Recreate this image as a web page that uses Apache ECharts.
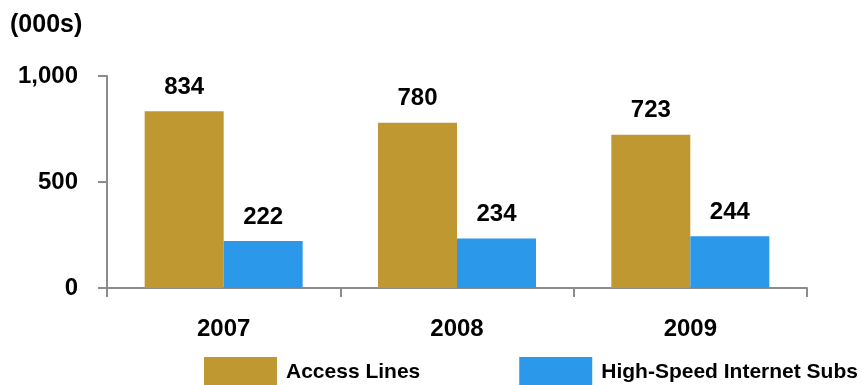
<!DOCTYPE html>
<html>
<head>
<meta charset="utf-8">
<script src="https://cdn.jsdelivr.net/npm/echarts@6/dist/echarts.min.js"></script>
<style>
  html, body { margin: 0; padding: 0; background: #fff; }
  #chart { width: 862px; height: 385px; }
</style>
</head>
<body>
<div id="chart"></div>
<script>
// Subscriber counts in thousands, by year
const years = ['2007', '2008', '2009'];
const accessLines = [834, 780, 723];
const highSpeedSubs = [222, 234, 244];
const seriesNames = ['Access Lines', 'High-Speed Internet Subs'];
const unitLabel = '(000s)';

const FONT = '"Liberation Sans", Arial, Helvetica, sans-serif';
const AXIS_GREY = '#8c8c8c';
const GOLD = '#BF9832';
const BLUE = '#2B98E9';

const chart = echarts.init(document.getElementById('chart'), null, { renderer: 'canvas' });

const valueLabel = {
  show: true,
  position: 'top',
  distance: 12,
  color: '#000',
  fontFamily: FONT,
  fontWeight: 'bold',
  fontSize: 24
};

chart.setOption({
  animation: false,
  backgroundColor: '#fff',
  title: {
    text: unitLabel,
    left: 10,
    top: 13,
    padding: 0,
    textStyle: { fontFamily: FONT, fontWeight: 'bold', fontSize: 25, color: '#000' }
  },
  legend: {
    data: seriesNames,
    bottom: -2,
    left: 204,
    padding: 0,
    itemWidth: 73,
    itemHeight: 30,
    itemGap: 99,
    icon: 'rect',
    textStyle: { fontFamily: FONT, fontWeight: 'bold', fontSize: 21, color: '#000', padding: [0, 0, 0, 4] }
  },
  grid: { left: 107, right: 55, top: 76, bottom: 97, containLabel: false },
  xAxis: {
    type: 'category',
    data: years,
    axisLine: { lineStyle: { color: AXIS_GREY, width: 2 } },
    axisTick: { show: true, length: 9, lineStyle: { color: AXIS_GREY, width: 2 } },
    axisLabel: { margin: 29, color: '#000', fontFamily: FONT, fontWeight: 'bold', fontSize: 24 }
  },
  yAxis: {
    type: 'value',
    min: 0,
    max: 1000,
    interval: 500,
    splitLine: { show: false },
    axisLine: { show: true, lineStyle: { color: AXIS_GREY, width: 2 } },
    axisTick: { show: true, length: 9, lineStyle: { color: AXIS_GREY, width: 2 } },
    axisLabel: {
      margin: 29,
      color: '#000',
      fontFamily: FONT,
      fontWeight: 'bold',
      fontSize: 24,
      formatter: v => v.toLocaleString('en-US')
    }
  },
  series: [
    {
      name: seriesNames[0],
      type: 'bar',
      data: accessLines,
      barWidth: 79,
      barGap: '0%',
      itemStyle: { color: GOLD },
      label: valueLabel
    },
    {
      name: seriesNames[1],
      type: 'bar',
      data: highSpeedSubs,
      barWidth: 79,
      barGap: '0%',
      itemStyle: { color: BLUE },
      label: valueLabel
    }
  ]
});
</script>
</body>
</html>
